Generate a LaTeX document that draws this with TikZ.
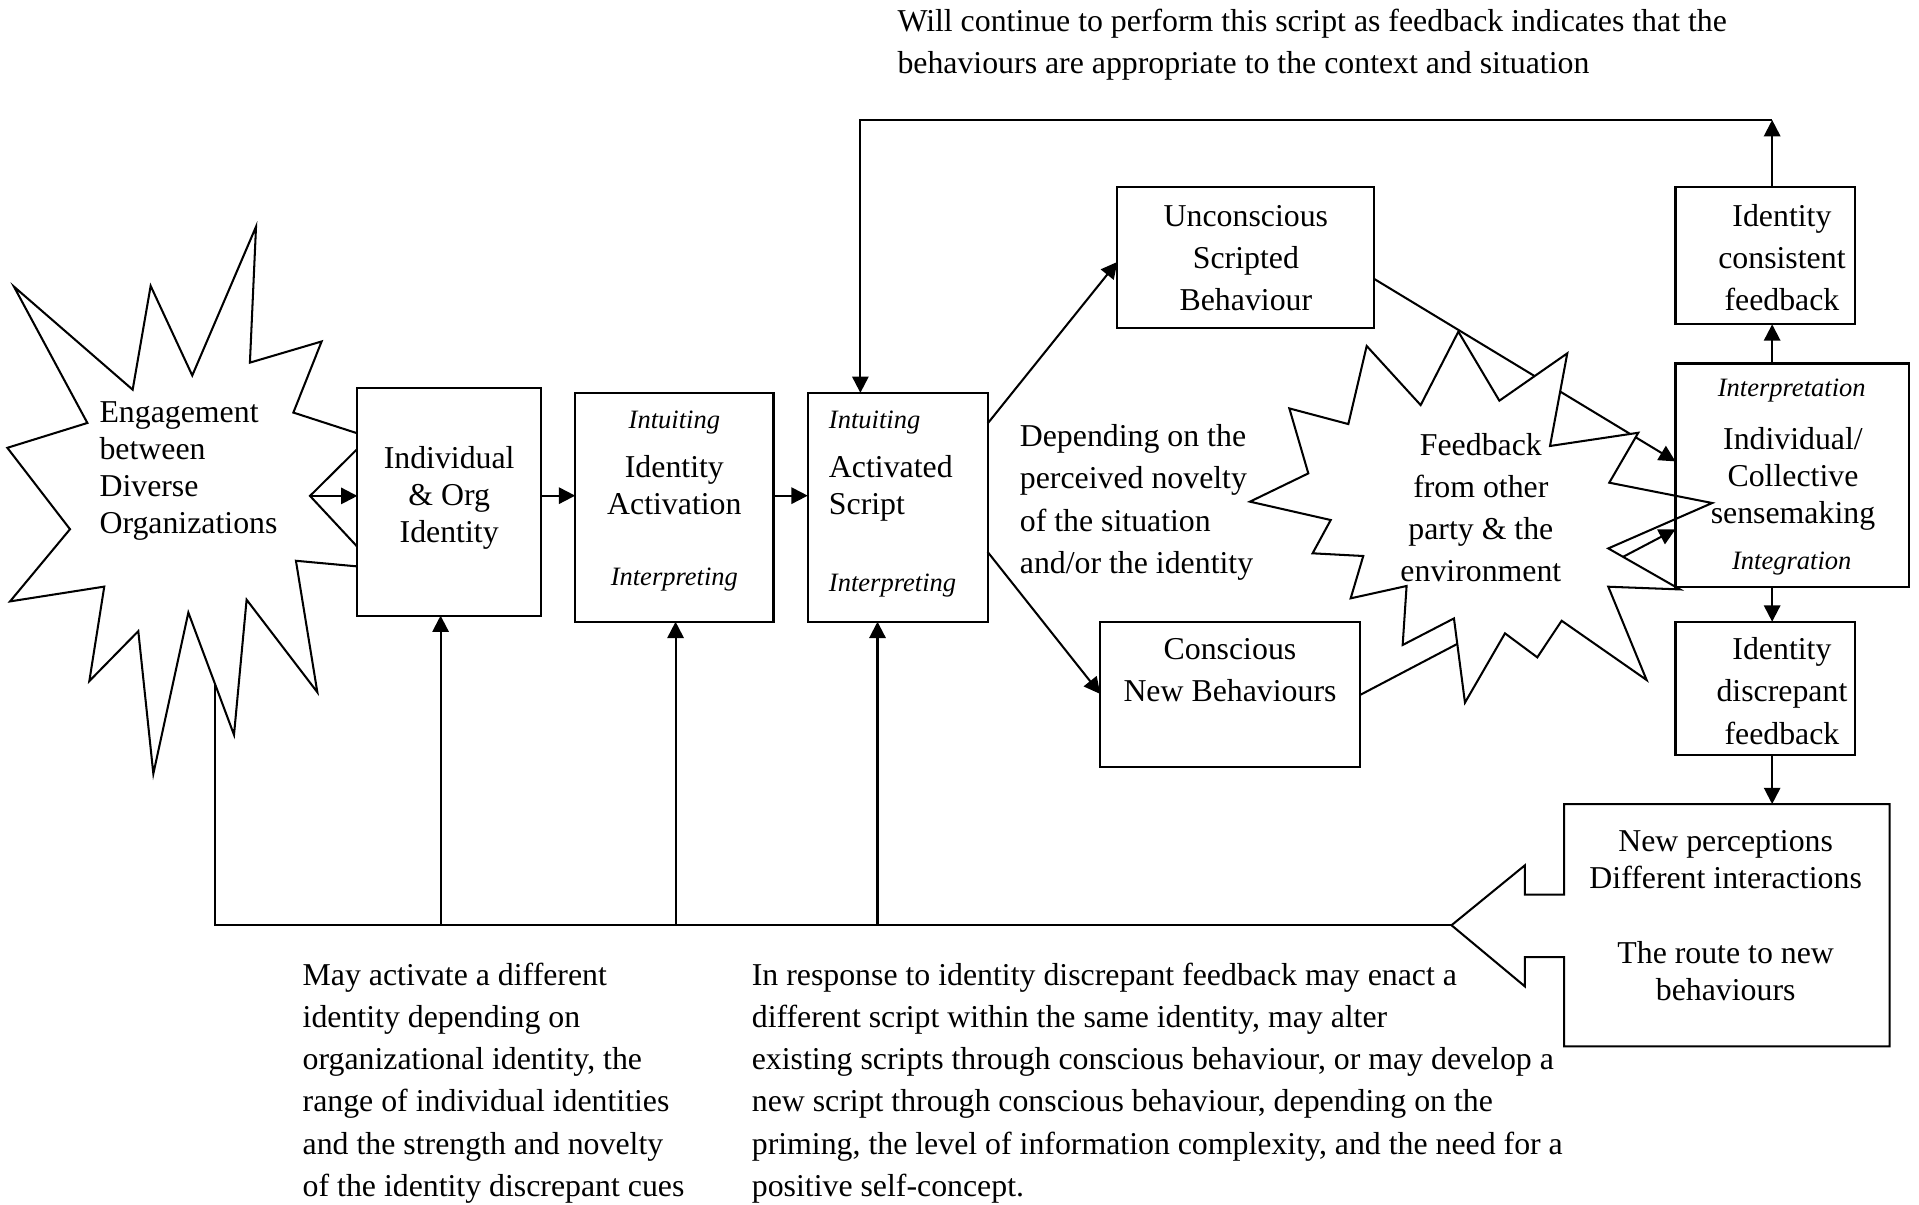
\documentclass[tikz,border=0pt]{standalone}
\usepackage{fontspec}
\setmainfont{Liberation Serif}
\usetikzlibrary{arrows.meta}
\newcommand{\mytl}[1]{\begin{tabular}[t]{@{}l@{}}#1\end{tabular}}
\newcommand{\mytc}[1]{\begin{tabular}[t]{@{}c@{}}#1\end{tabular}}
\tikzset{
  ln/.style={line width=1pt,line join=miter},
  arr/.style={line width=1pt,-{Triangle[length=8pt,width=8pt]}},
  boxshape/.style={draw,line width=1pt,fill=white,inner sep=0pt,outer sep=0pt},
  txts/.style={inner sep=0pt,font=\fontsize{15.6}{18.2}\selectfont},
  txtl/.style={inner sep=0pt,font=\fontsize{15.6}{20.7}\selectfont},
  itl/.style={inner sep=0pt,font=\fontsize{13}{15}\selectfont\itshape},
}
\newcommand{\mybox}[6][]{\node[boxshape,anchor=north west,minimum width={(#5-#3)*0.6pt},minimum height={(#6-#4)*0.6pt},#1] (#2) at (#3,#4) {};}
\begin{document}
\begin{tikzpicture}[x=0.6pt,y=-0.6pt]
\useasboundingbox (0,0) rectangle (1568,984);
% helper coordinates
\coordinate (tip) at (1186,756);
\coordinate (bl0) at (176,756);
\coordinate (sbin) at (176,520);
\coordinate (yA) at (0,405);
\coordinate (yB) at (0,346);
\coordinate (yC) at (0,214);
\coordinate (yD) at (0,451);
\coordinate (yE) at (0,567);
\coordinate (yF) at (0,228);
\coordinate (yG) at (0,377);
\coordinate (yH) at (0,568);
\coordinate (yI) at (0,432.5);
\coordinate (xR) at (1448,0);
\coordinate (corner) at (1448,98);
\coordinate (cornerL) at (703,98);
\coordinate (sbc) at (253.3,405.2);
\coordinate (np) at (1448,657);
\coordinate (u1) at (360,756);
\coordinate (u2) at (552,756);
\coordinate (u3) at (717,756);

% bottom return line (under the left starburst)
\draw[ln] (tip) -- (bl0) -- (sbin);

% left starburst
\draw[ln,fill=white] (209.2,185.2) -- (204.2,296.3) -- (262.8,279.0) -- (239.7,337.1) -- (301.7,357.2) -- (253.3,405.2) -- (308.3,464.3) -- (241.8,458.2) -- (259.3,565.6) -- (201.5,490.0) -- (191.2,600.4) -- (153.9,500.5) -- (125.3,632.2) -- (113.0,515.7) -- (73.0,556.5) -- (85.2,479.3) -- (8.2,491.4) -- (57.2,432.4) -- (6.0,365.9) -- (71.4,345.6) -- (11.4,234.2) -- (108.4,318.4) -- (123.1,233.6) -- (157.1,306.8) -- cycle;
\node[txts,anchor=base west] (eng) at (81,345) {\mytl{Engagement\\between\\Diverse\\Organizations}};

% boxes
\mybox{b1}{292}{317}{442}{503}
\mybox{b2}{470}{321}{632}{508}
\mybox{b3}{660}{321}{807}{508}
\mybox{unc}{913}{153}{1123}{268}
\mybox{con}{899}{508}{1111}{627}
\mybox{cons}{1369}{153}{1516}{265}
\mybox[draw=none,fill=none]{sense}{1369}{297}{1560}{480}
\mybox{disc}{1369}{508}{1516}{617}

% box texts
\node[txts,anchor=base] (b1t) at (367,383) {\mytc{Individual\\\& Org\\Identity}};
\node[itl,anchor=base] (b2i1) at (551,350) {Intuiting};
\node[txts,anchor=base] (b2t) at (551,390) {\mytc{Identity\\Activation}};
\node[itl,anchor=base] (b2i2) at (551,478) {Interpreting};
\node[itl,anchor=base west] (b3i1) at (677,350) {Intuiting};
\node[txts,anchor=base west] (b3t) at (677,390) {\mytl{Activated\\Script}};
\node[itl,anchor=base west] (b3i2) at (677,483) {Interpreting};
\node[txtl,anchor=base] (unct) at (1018,185) {\mytc{Unconscious\\Scripted\\Behaviour}};
\node[txtl,anchor=base] (cont) at (1005,539) {\mytc{Conscious\\New Behaviours}};
\node[txtl,anchor=base] (const) at (1456,185) {\mytc{Identity\\consistent\\feedback}};
\node[txtl,anchor=base] (disct) at (1456,539) {\mytc{Identity\\discrepant\\feedback}};

% arrows
\draw[arr] (sbc) -- (sbc -| b1.west);
\draw[arr] (b1.east |- yA) -- (b2.west |- yA);
\draw[arr] (b2.east |- yA) -- (b3.west |- yA);
\draw[arr] (b3.east |- yB) -- (unc.west |- yC);
\draw[arr] (b3.east |- yD) -- (con.west |- yE);
\draw[arr] (unc.east |- yF) -- (sense.west |- yG);
\draw[arr] (con.east |- yH) -- (sense.west |- yI);
\draw[arr] (u1) -- (u1 |- b1.south);
\draw[arr] (u2) -- (u2 |- b2.south);
\draw[arr] (u3) -- (u3 |- b3.south);
\draw[arr] (xR |- sense.north) -- (xR |- cons.south);
\draw[arr] (xR |- cons.north) -- (corner);
\draw[arr] (corner) -- (cornerL) -- (cornerL |- b3.north);
\draw[arr] (xR |- sense.south) -- (xR |- disc.north);
\draw[arr] (xR |- disc.south) -- (np);

% feedback starburst
\draw[ln,fill=white] (1191.6,271.0) -- (1225.1,327.4) -- (1280.6,288.7) -- (1266.5,364.4) -- (1338.6,353.6) -- (1314.9,394.4) -- (1399,411) -- (1314.1,448.1) -- (1372.7,481.6) -- (1314.1,479.4) -- (1345.4,555.6) -- (1276.0,507.2) -- (1256.1,537.1) -- (1229.7,517.5) -- (1197.0,574.1) -- (1188.0,505.3) -- (1146.1,527.0) -- (1149.3,478.8) -- (1103.6,488.9) -- (1113.9,454.3) -- (1072.5,452.1) -- (1087.3,424.9) -- (1021.3,409.9) -- (1069.0,386.8) -- (1053.5,333.7) -- (1101.7,346.5) -- (1116.7,282.7) -- (1160.8,331.0) -- cycle;
\node[inner sep=0pt,font=\fontsize{15.6}{20.6}\selectfont,anchor=base] (fbt) at (1210,372) {\mytc{Feedback\\from other\\party \& the\\environment}};

% sensemaking box border drawn over the starburst spike
\draw[line width=1pt] (sense.north west) rectangle (sense.south east);
\node[itl,anchor=base] (si1) at (1464,324) {Interpretation};
\node[txts,anchor=base] (senset) at (1465,367) {\mytc{Individual/\\Collective\\sensemaking}};
\node[itl,anchor=base] (si2) at (1464,465) {Integration};

% new perceptions arrow box
\draw[ln,fill=white] (1278,657) -- (1544,657) -- (1544,855) -- (1278,855) -- (1278,782) -- (1246,782) -- (1246,806) -- (tip) -- (1246,707) -- (1246,731) -- (1278,731) -- cycle;
\node[txts,anchor=base] (npt) at (1410,696) {\mytc{New perceptions\\Different interactions\\ \\The route to new\\behaviours}};

% free texts
\node[txtl,anchor=base west] (dep) at (833,365) {\mytl{Depending on the\\perceived novelty\\of the situation\\and/or the identity}};
\node[inner sep=0pt,font=\fontsize{15.6}{20.4}\selectfont,anchor=base west] (top) at (733,26) {\mytl{Will continue to perform this script as feedback indicates that the\\behaviours are appropriate to the context and situation}};
\node[txtl,anchor=base west] (blt) at (247,805) {\mytl{May activate a different\\identity depending on\\organizational identity, the\\range of individual identities\\and the strength and novelty\\of the identity discrepant cues}};
\node[txtl,anchor=base west] (brt) at (614,805) {\mytl{In response to identity discrepant feedback may enact a\\different script within the same identity, may alter\\existing scripts through conscious behaviour, or may develop a\\new script through conscious behaviour, depending on the\\priming, the level of information complexity, and the need for a\\positive self-concept.}};
\end{tikzpicture}
\end{document}
